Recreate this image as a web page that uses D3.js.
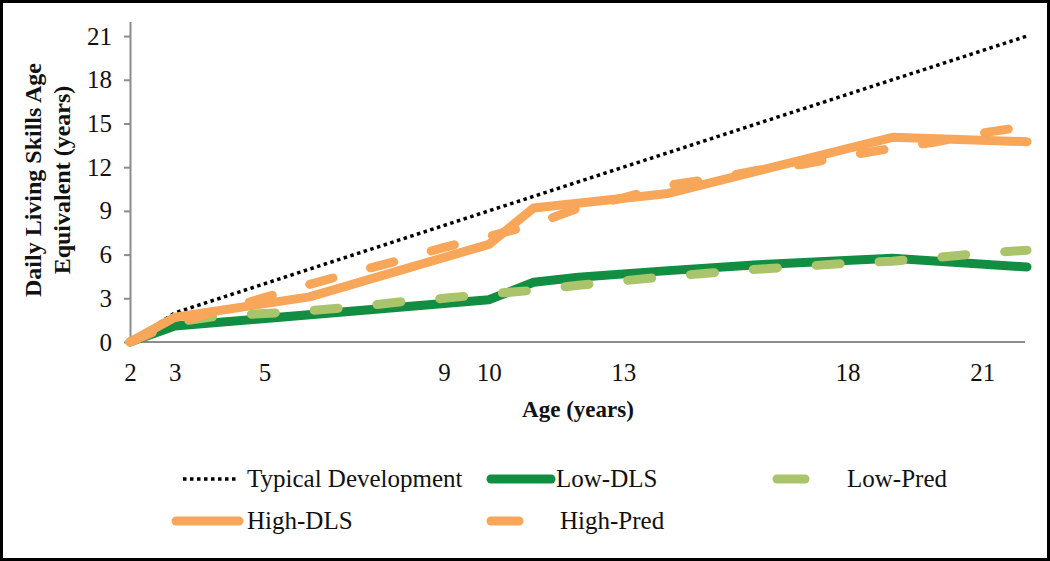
<!DOCTYPE html>
<html>
<head>
<meta charset="utf-8">
<script src="https://cdn.jsdelivr.net/npm/d3@7"></script>
<style>
  body { margin: 0; background: #fff; }
  text { font-family: "Liberation Serif", "Times New Roman", serif; fill: #111; }
</style>
</head>
<body>
<script>
// data
const typicalAge = [2, 3, 22];
const typicalDLS = [0, 2, 21];

const lowAge = [2, 3, 10, 11, 12, 14, 16, 19, 22];
const lowDLS = [0, 1.1, 2.9, 4.1, 4.45, 4.9, 5.3, 5.75, 5.15];

const highAge = [2, 3, 6, 10, 11, 14, 19, 22];
const highDLS = [0, 1.7, 3.1, 6.7, 9.2, 10.2, 14.05, 13.75];

const predAge  = [2, 3, 4, 5, 6, 7, 8, 9, 10, 11, 12, 13, 14, 15, 16, 17, 18, 19, 20, 21, 22];
const lowPred  = [0, 1.35, 1.8, 1.95, 2.15, 2.4, 2.75, 3.0, 3.3, 3.55, 3.9, 4.2, 4.5, 4.75, 5.0, 5.2, 5.4, 5.55, 5.8, 6.1, 6.3];
const highPred = [0, 1.3, 2.15, 3.05, 3.95, 4.8, 5.6, 6.5, 7.25, 8.05, 9.2, 9.9, 10.75, 11.2, 11.8, 12.2, 12.8, 13.3, 13.75, 14.35, 14.8];

const xTicks = [2, 3, 5, 9, 10, 13, 18, 21];
const yTicks = [0, 3, 6, 9, 12, 15, 18, 21];

// SVG size
const width = 1050;
const height = 561;

const svg = d3.select("body")
    .append("svg")
    .attr("width", width)
    .attr("height", height);

// frame
svg.append("rect")
    .attr("x", 1.5).attr("y", 1.5)
    .attr("width", width - 3).attr("height", height - 3)
    .attr("fill", "none")
    .attr("stroke", "#000")
    .attr("stroke-width", 3);

// scales
const x = d3.scaleLinear().domain([2, 22]).range([130, 1027]);
const y = d3.scaleLinear().domain([0, 22]).range([342, 21.5]);

// y axis
const yAxis = svg.append("g")
    .attr("transform", "translate(130,0)")
    .call(d3.axisLeft(y).tickValues(yTicks).tickSize(6).tickPadding(12).tickSizeOuter(0));
yAxis.select(".domain").attr("stroke", "#8c8c8c").attr("stroke-width", 2);
yAxis.selectAll(".tick line").attr("stroke", "#8c8c8c").attr("stroke-width", 2);
yAxis.selectAll(".tick text")
    .style("font-family", "Liberation Serif").style("font-size", "25px").attr("fill", "#111");

// x axis (no tick marks)
const xAxis = svg.append("g")
    .attr("transform", "translate(0,342)")
    .call(d3.axisBottom(x).tickValues(xTicks).tickSize(0).tickPadding(21).tickSizeOuter(0));
xAxis.select(".domain").attr("stroke", "#8c8c8c").attr("stroke-width", 2)
    .attr("d", "M130,0H1025");
xAxis.selectAll(".tick text")
    .style("font-family", "Liberation Serif").style("font-size", "25px").attr("fill", "#111");

// axis titles
svg.append("text")
    .attr("x", 578).attr("y", 417)
    .attr("text-anchor", "middle")
    .style("font-size", "23px").style("font-weight", "bold")
    .text("Age (years)");

const yTitle = svg.append("text")
    .attr("transform", "translate(0,180) rotate(-90)")
    .attr("text-anchor", "middle")
    .style("font-size", "24px").style("font-weight", "bold");
yTitle.append("tspan").attr("x", 0).attr("y", 41).text("Daily Living Skills Age");
yTitle.append("tspan").attr("x", 0).attr("y", 70).text("Equivalent (years)");

// lines
const line = d3.line().x(d => x(d[0])).y(d => y(d[1]));
const pts = (xs, ys) => xs.map((v, i) => [v, ys[i]]);

const series = [
    { name: "Typical Development", data: pts(typicalAge, typicalDLS), color: "#000", w: 3.5, dash: "3.5,3.5", cap: "butt" },
    { name: "Low-DLS", data: pts(lowAge, lowDLS), color: "#128e42", w: 9, dash: null, cap: "round" },
    { name: "High-DLS", data: pts(highAge, highDLS), color: "#f8a65a", w: 9, dash: null, cap: "round" },
    { name: "Low-Pred", data: pts(predAge, lowPred), color: "#a9c46b", w: 9, dash: "24,39", cap: "round" },
    { name: "High-Pred", data: pts(predAge, highPred), color: "#f8a65a", w: 9, dash: "24,39", cap: "round" }
];

svg.selectAll("path.series")
    .data(series)
    .enter()
    .append("path")
    .attr("class", "series")
    .attr("d", d => line(d.data))
    .attr("fill", "none")
    .attr("stroke", d => d.color)
    .attr("stroke-width", d => d.w)
    .attr("stroke-dasharray", d => d.dash)
    .attr("stroke-linecap", d => d.cap)
    .attr("stroke-linejoin", "round");

// legend (dashed series show a single dash)
const legendItems = [
    { s: series[0], x1: 183, x2: 239, row: 479, tx: 247 },
    { s: series[1], x1: 491, x2: 551, row: 479, tx: 556 },
    { s: series[3], x1: 777, x2: 805, row: 479, tx: 847 },
    { s: series[2], x1: 176, x2: 239, row: 521, tx: 247 },
    { s: series[4], x1: 491, x2: 519, row: 521, tx: 560 }
];

const lg = svg.selectAll("g.legend")
    .data(legendItems)
    .enter()
    .append("g")
    .attr("class", "legend");

lg.append("line")
    .attr("x1", d => d.x1)
    .attr("x2", d => d.x2)
    .attr("y1", d => d.row)
    .attr("y2", d => d.row)
    .attr("stroke", d => d.s.color)
    .attr("stroke-width", d => d.s.w)
    .attr("stroke-dasharray", d => d.s.name === "Typical Development" ? d.s.dash : null)
    .attr("stroke-linecap", d => d.s.cap);

lg.append("text")
    .attr("x", d => d.tx)
    .attr("y", d => d.row + 8)
    .style("font-size", "25px")
    .text(d => d.s.name);
</script>
</body>
</html>
